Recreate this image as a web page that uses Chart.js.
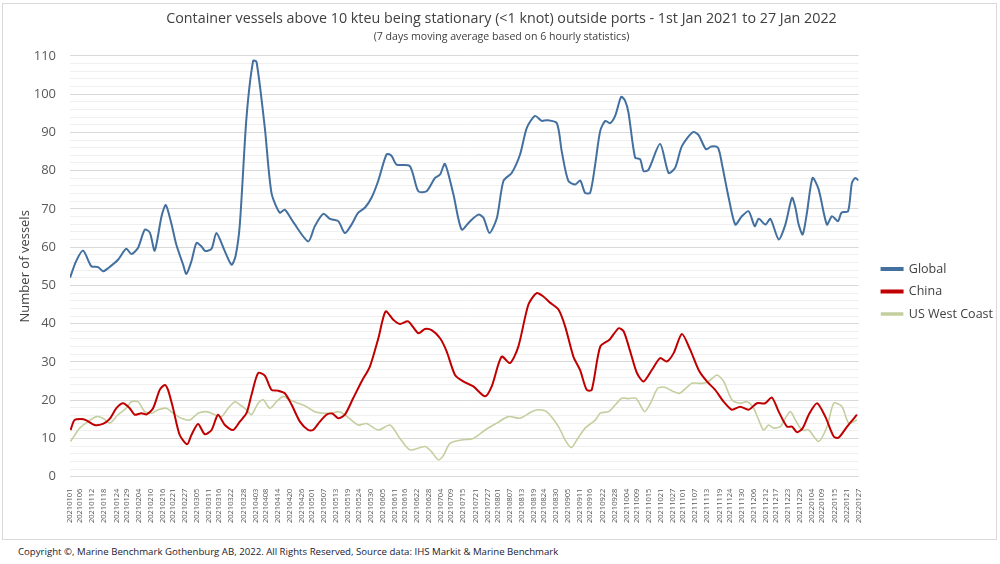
<!DOCTYPE html>
<html>
<head>
<meta charset="utf-8">
<script src="https://cdn.jsdelivr.net/npm/chart.js@4.4.0/dist/chart.umd.min.js"></script>
<style>
  body { margin: 0; background: #fff; width: 1000px; height: 564px; overflow: hidden; font-family: "Open Sans", sans-serif; }
  #frame { position: absolute; left: 2px; top: 3px; width: 993px; height: 535px; border: 1px solid #d9d9d9; }
  #footer { position: absolute; left: 18px; top: 545px; font-size: 9.65px; line-height: 14px; color: #1a1a2e; white-space: nowrap; }
</style>
</head>
<body>
<div id="frame"><canvas id="chart" width="993" height="535"></canvas></div>
<div id="footer">Copyright ©, Marine Benchmark Gothenburg AB, 2022. All Rights Reserved, Source data: IHS Markit &amp; Marine Benchmark</div>
<script>
// x-axis tick labels (dates shown under the axis)
const tickLabels = ['20210101','20210106','20210112','20210118','20210124','20210129','20210204','20210210','20210216','20210221',
  '20210227','20210305','20210311','20210316','20210322','20210328','20210403','20210408','20210414','20210420',
  '20210426','20210501','20210507','20210513','20210519','20210524','20210530','20210605','20210611','20210616',
  '20210622','20210628','20210704','20210709','20210715','20210721','20210727','20210801','20210807','20210813',
  '20210819','20210824','20210830','20210905','20210911','20210916','20210922','20210928','20211004','20211009',
  '20211015','20211021','20211027','20211101','20211107','20211113','20211119','20211124','20211130','20211206',
  '20211212','20211217','20211223','20211229','20220104','20220109','20220115','20220121','20220127'];

// Global: day offset from 1 Jan 2021, number of vessels
const globalDays = [0,3,6.5,10.6,13.9,16.4,18.9,23.8,27.9,30.4,33.7,37.1,39.6,42,45.4,47.5,50.2,52.7,56.1,57.7,
  60.2,62.7,65.2,67,70.2,72.6,76.8,80.1,82.1,84.2,87.5,90.8,92.5,96.6,99.9,104,106.5,110.4,118.1,121.4,
  125.6,128.9,133,136.3,139.6,142.9,146.2,149.5,152.8,157,159.4,161.9,168.5,172.7,176.8,181,183.5,185.9,190.1,194.2,
  198.4,202.5,205,208,211.7,214.9,219,223.2,226.5,230.6,233.9,236.4,241.4,243.8,247.1,250.5,253,255.4,257.9,260.4,
  262.9,265.4,267.8,270.3,273.3,275.2,276.9,280.2,282.7,284.4,286.8,292.6,296.8,300.1,303.4,308.9,311.7,315.3,318,321.3,
  323.3,326.6,329.9,333,336.5,339.5,341.5,344.8,347.3,351.4,354.7,358,359.7,361.3,363.3,365.4,368.2,371.2,375.3,377.8,
  380.8,382.5,385.8,387.7,389.4,391];
const globalValues = [52,56.3,59.1,55.0,54.8,53.7,54.5,56.7,59.6,58.2,59.8,64.6,63.8,59.1,68.1,71.0,66.3,60.7,55.4,53.0,
  56.3,61.1,60.2,59.0,59.6,63.7,58.9,55.4,57.7,65.9,93.8,108.7,108.4,91.2,74.2,69.0,69.8,66.8,61.5,65.5,
  68.7,67.4,66.8,63.7,65.9,69.0,70.3,72.9,77.3,84.3,83.9,81.6,81.2,74.6,74.6,78.1,79.0,81.8,73.8,64.6,
  66.8,68.5,67.7,63.7,67.7,77.3,79.4,84.3,91.2,94.3,93.0,93.2,92.4,85.1,77.3,76.4,77.4,74.2,74.2,81.6,
  90.4,93.0,92.4,94.3,99.3,98.3,95.2,83.4,83.0,79.9,80.2,87.0,79.4,80.8,86.4,90.1,89.3,85.6,86.3,86.0,
  81.6,72.9,65.9,68.0,69.4,65.5,67.4,65.9,67.4,62.0,65.9,72.9,70.3,65.9,63.3,69.0,78.1,75.1,65.9,68.1,
  66.8,69.0,69.4,76.8,78.1,77.4];

// China
const chinaDays = [0.3,2.2,5.5,7.9,12.2,16.3,19.7,23,26.3,29.6,32.1,35.4,38,41.2,44.5,47,48.6,51.1,54.4,58.1,
  60.2,63.5,66.8,70.2,73.4,76.8,80.9,84.2,87.5,90,93.3,96.6,99.9,103,106.5,109.9,114,118.1,120.5,123.9,
  127.2,130,133,136.3,140.4,144.6,148.7,152.9,156.5,160.3,163.6,167.7,172.7,176,179.3,183.5,186.8,190.9,195,200,
  205.8,209.1,214,218.2,222.3,227.3,231.4,234.7,238,242.2,245.5,249.6,252.9,256.2,258.7,262.9,267.5,272,274.5,277.8,
  281.1,284.4,288.5,292.6,295.9,299.3,303.4,307.5,311.7,315.8,319.9,324.1,328.2,332.3,336.5,340.6,344.7,348,351.4,355.5,
  358,360.5,363.3,366.3,370.4,374.5,378.7,381.1,385.3,390.2];
const chinaValues = [12.2,14.8,15.1,14.8,13.5,13.8,15.1,17.9,19.2,17.9,16.2,16.6,16.3,17.9,22.7,24.0,22.7,17.9,10.9,8.5,
  10.9,13.8,11.1,12.2,16.2,13.5,12.2,14.4,16.6,21.4,27.1,26.4,22.7,22.5,21.8,18.8,14.4,12.2,12.2,14.4,
  16.2,16.5,15.3,16.2,20.5,24.9,28.8,36.2,43.2,41.0,39.9,40.6,37.5,38.6,38.3,36.2,32.7,26.6,24.9,23.6,
  21.0,23.6,31.4,29.7,34.0,45.0,48.0,47.1,45.5,43.7,39.3,31.4,27.9,22.7,22.7,34.0,35.8,38.8,38.0,32.7,
  27.1,24.9,27.9,31.0,30.1,32.3,37.3,33.2,27.9,24.9,22.7,19.6,17.5,18.3,17.5,19.2,19.2,20.7,17.0,13.1,
  13.1,11.6,12.7,16.2,19.2,15.7,10.5,10.2,13.1,16.2];

// US West Coast
const uswcDays = [0.3,4.8,8.9,13.1,16.4,19.7,23.8,27.9,30.4,33.7,37.1,40.4,43.7,47.8,51.1,55.2,59.4,63.5,67.7,71.8,
  75.1,78.4,81.8,84.2,87.5,90,93.3,95.8,99.1,102.4,105.7,109,113.2,117.3,121.4,125.6,129.7,133,136.3,142.9,
  147,152.9,158.7,163.6,168.6,176,179.3,182.6,185.1,188.4,194.2,200,205.8,211.6,217.4,223.2,228.9,232.2,236.3,242.2,
  245.5,248.5,251.3,255.4,260.4,262.9,267.1,270.4,273.6,276.9,280.7,284.9,288.2,291.4,294.8,299,302.3,308.4,313.4,316.6,
  320.8,324.1,328.2,332.3,335.7,339,341.5,343.9,346.4,348.9,352.2,354.7,357.2,359.7,363,366.3,371.2,375.4,378.7,382.8,
  386.1,390.2];
const uswcValues = [9.2,12.7,14.4,15.7,15.3,14.0,16.2,17.9,19.6,19.6,17.0,16.6,17.5,17.9,16.6,15.3,14.8,16.6,17.0,16.2,
  15.7,17.9,19.6,18.8,17.5,16.2,19.2,20.1,17.9,19.6,21.0,20.1,19.2,18.3,17.0,16.6,16.6,17.0,16.2,13.5,
  13.9,12.2,13.5,10.0,7.0,7.9,6.5,4.4,5.5,8.7,9.6,10.0,12.2,14.0,15.7,15.3,17.0,17.5,17.0,13.1,
  9.6,7.6,9.6,12.7,14.8,16.6,17.0,18.8,20.5,20.4,20.5,17.0,19.6,23.1,23.4,22.3,21.8,24.4,24.4,24.9,
  26.6,24.9,20.1,19.2,19.6,17.9,14.8,12.2,13.5,12.7,13.1,15.3,17.0,14.8,12.2,12.2,9.2,13.1,19.2,18.3,
  14.0,14.8];

const yTicks = [0, 10, 20, 30, 40, 50, 60, 70, 80, 90, 100, 110];

// day offset of each tick label
const startDate = Date.UTC(2021, 0, 1);
const tickDays = tickLabels.map(s =>
  Math.round((Date.UTC(+s.slice(0, 4), +s.slice(4, 6) - 1, +s.slice(6, 8)) - startDate) / 86400000));

function points(days, values) {
  return days.map((d, i) => ({ x: d, y: values[i] }));
}

const textFont = '"Open Sans", sans-serif';

// move the legend a bit right and down, like in the original
const legendShift = {
  id: 'legendShift',
  afterLayout(chart) {
    const lg = chart.legend;
    lg.left += 13; lg.right += 13;
    lg.top += 24; lg.bottom += 24;
  }
};

new Chart(document.getElementById('chart').getContext('2d'), {
  type: 'line',
  data: {
    datasets: [
      { label: 'Global', data: points(globalDays, globalValues), borderColor: '#43709f', backgroundColor: '#43709f', borderWidth: 2 },
      { label: 'China', data: points(chinaDays, chinaValues), borderColor: '#c00000', backgroundColor: '#c00000', borderWidth: 2 },
      { label: 'US West Coast', data: points(uswcDays, uswcValues), borderColor: '#c4cf9f', backgroundColor: '#c4cf9f', borderWidth: 1.6 }
    ]
  },
  plugins: [legendShift],
  options: {
    responsive: false,
    animation: false,
    elements: { point: { radius: 0 }, line: { tension: 0.25 } },
    layout: { padding: { left: 10, right: 6, top: 4, bottom: 12 } },
    plugins: {
      title: {
        display: true,
        text: 'Container vessels above 10 kteu being stationary (<1 knot) outside ports - 1st Jan 2021 to 27 Jan 2022',
        color: '#404040',
        font: { family: textFont, size: 14.3, weight: 'normal' },
        padding: { top: 2, bottom: 3 }
      },
      subtitle: {
        display: true,
        text: '(7 days moving average based on 6 hourly statistics)',
        color: '#404040',
        font: { family: textFont, size: 10.6, weight: 'normal' },
        padding: { top: 0, bottom: 13 }
      },
      legend: {
        position: 'right',
        labels: {
          boxWidth: 21,
          boxHeight: 2,
          padding: 10,
          color: '#404040',
          font: { family: textFont, size: 12.5 }
        }
      },
      tooltip: { enabled: false }
    },
    scales: {
      x: {
        type: 'linear',
        min: 0,
        max: 391,
        afterBuildTicks: axis => { axis.ticks = tickDays.map(v => ({ value: v })); },
        ticks: {
          autoSkip: false,
          minRotation: 90,
          maxRotation: 90,
          color: '#595959',
          font: { family: textFont, size: 7.5 },
          padding: 4,
          callback: (value, index) => tickLabels[index]
        },
        grid: { display: false },
        border: { display: false }
      },
      y: {
        min: 0,
        max: 110,
        afterFit: scale => { scale.width = 57; },
        ticks: {
          stepSize: 2,
          autoSkip: false,
          color: '#595959',
          font: { family: textFont, size: 13 },
          padding: 14,
          callback: value => yTicks.includes(value) ? value : ''
        },
        grid: {
          drawTicks: false,
          color: ctx => ctx.tick && ctx.tick.value % 10 === 0 ? '#d9d9d9' : '#efefef',
          lineWidth: 1
        },
        border: { display: false },
        title: {
          display: true,
          text: 'Number of vessels',
          color: '#404040',
          font: { family: textFont, size: 13 },
          padding: { top: 4, bottom: 0 }
        }
      }
    }
  }
});
</script>
</body>
</html>
